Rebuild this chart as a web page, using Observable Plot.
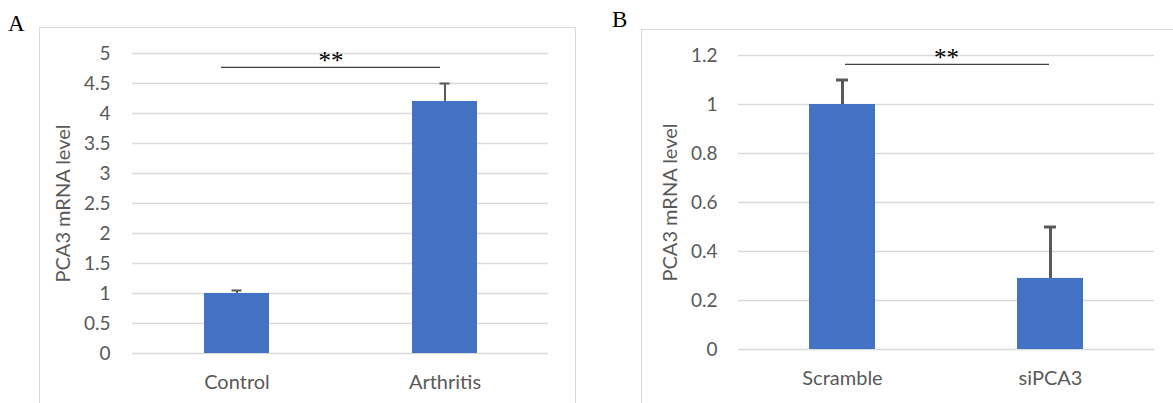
<!DOCTYPE html>
<html><head><meta charset="utf-8">
<script src="https://cdn.jsdelivr.net/npm/d3@7"></script>
<script src="https://cdn.jsdelivr.net/npm/@observablehq/plot@0.6"></script>
<style>
body{margin:0;background:#fff;}
#root{position:relative;width:1173px;height:403px;overflow:hidden;background:#fff;}
.box{position:absolute;border:1px solid #d9d9d9;box-sizing:border-box;}
.panel{position:absolute;}
.letter{position:absolute;font-family:"Liberation Serif","Times New Roman",serif;font-size:23px;color:#000;line-height:1;}
</style></head><body>
<div id="root">
 <div class="box" style="left:39px;top:27px;width:537px;height:420px"></div>
 <div class="box" style="left:641px;top:29px;width:600px;height:420px"></div>
 <div class="letter" style="left:8px;top:12px">A</div>
 <div class="letter" style="left:612px;top:8px">B</div>
 <div class="panel" id="pa" style="left:39px;top:27px"></div>
 <div class="panel" id="pb" style="left:641px;top:29px"></div>
</div>
<script>
// ---- data ----
const catsA = ["Control", "Arthritis"];
const valuesA = [1.0, 4.2];
const errorsA = [0.05, 0.3];
const ticksA = [0, 0.5, 1, 1.5, 2, 2.5, 3, 3.5, 4, 4.5, 5];
const sigA = 4.77;

const catsB = ["Scramble", "siPCA3"];
const valuesB = [1.0, 0.29];
const errorsB = [0.1, 0.21];
const ticksB = [0, 0.2, 0.4, 0.6, 0.8, 1, 1.2];
const sigB = 1.164;

const yLabel = "PCA3 mRNA level";
const sigLabel = "**";

function panel(cfg) {
  const rows = cfg.cats.map((c, i) => ({cat: c, value: cfg.values[i], err: cfg.errors[i]}));
  return Plot.plot({
    width: cfg.width, height: cfg.height,
    marginLeft: cfg.ml, marginRight: cfg.mr, marginTop: cfg.mt, marginBottom: cfg.mb,
    style: {background: "none", fontFamily: "Lato, 'Open Sans', sans-serif", fontSize: "18px", color: "#595959"},
    x: {domain: cfg.cats, paddingInner: cfg.pad, paddingOuter: cfg.pad / 2, label: null},
    y: {domain: [0, cfg.ticks[cfg.ticks.length - 1]], label: null},
    marks: [
      Plot.gridY(cfg.ticks, {stroke: "#d9d9d9", strokeOpacity: 1, strokeWidth: 1.3}),
      Plot.barY(rows, {x: "cat", y: "value", fill: "#4472C4"}),
      Plot.ruleX(rows, {x: "cat", y1: "value", y2: d => d.value + d.err, stroke: "#595959", strokeWidth: cfg.ew}),
      Plot.tickY(rows, {x: "cat", y: d => d.value + d.err, stroke: "#595959", strokeWidth: cfg.ew, insetLeft: cfg.capInset, insetRight: cfg.capInset}),
      Plot.ruleY([cfg.sig], {stroke: "#404040", strokeWidth: 1.3, insetLeft: cfg.sigL, insetRight: cfg.sigR}),
      Plot.text([sigLabel], {text: d => d, y: () => cfg.sig, dx: cfg.sigDx, dy: 2, lineAnchor: "bottom",
        fontFamily: "'Liberation Serif', 'Times New Roman', serif", fontSize: 25, fill: "#000"}),
      Plot.axisX({tickSize: 0, tickPadding: cfg.xpad, fontSize: 20, label: null}),
      Plot.axisY({ticks: cfg.ticks, tickSize: 0, tickPadding: cfg.ypad, fontSize: 19, label: null, tickFormat: d => `${d}`}),
      Plot.text([yLabel], {text: d => d, frameAnchor: "left", textAnchor: "middle", dx: cfg.labelDx, rotate: -90, fontSize: 20, fill: "#595959"})
    ]
  });
}

document.getElementById("pa").append(panel({
  cats: catsA, values: valuesA, errors: errorsA, ticks: ticksA, sig: sigA,
  width: 536, height: 376, ml: 93, mr: 27, mt: 26, mb: 50,
  pad: 0.688, ew: 2, capInset: 27.5, sigL: 89, sigR: 108, sigDx: -9.5,
  xpad: 21, ypad: 22, labelDx: -69
}));
document.getElementById("pb").append(panel({
  cats: catsB, values: valuesB, errors: errorsB, ticks: ticksB, sig: sigB,
  width: 532, height: 374, ml: 97, mr: 19, mt: 26, mb: 54,
  pad: 0.685, ew: 3, capInset: 27, sigL: 107, sigR: 105, sigDx: 0,
  xpad: 21, ypad: 21, labelDx: -68
}));
</script>
</body></html>
